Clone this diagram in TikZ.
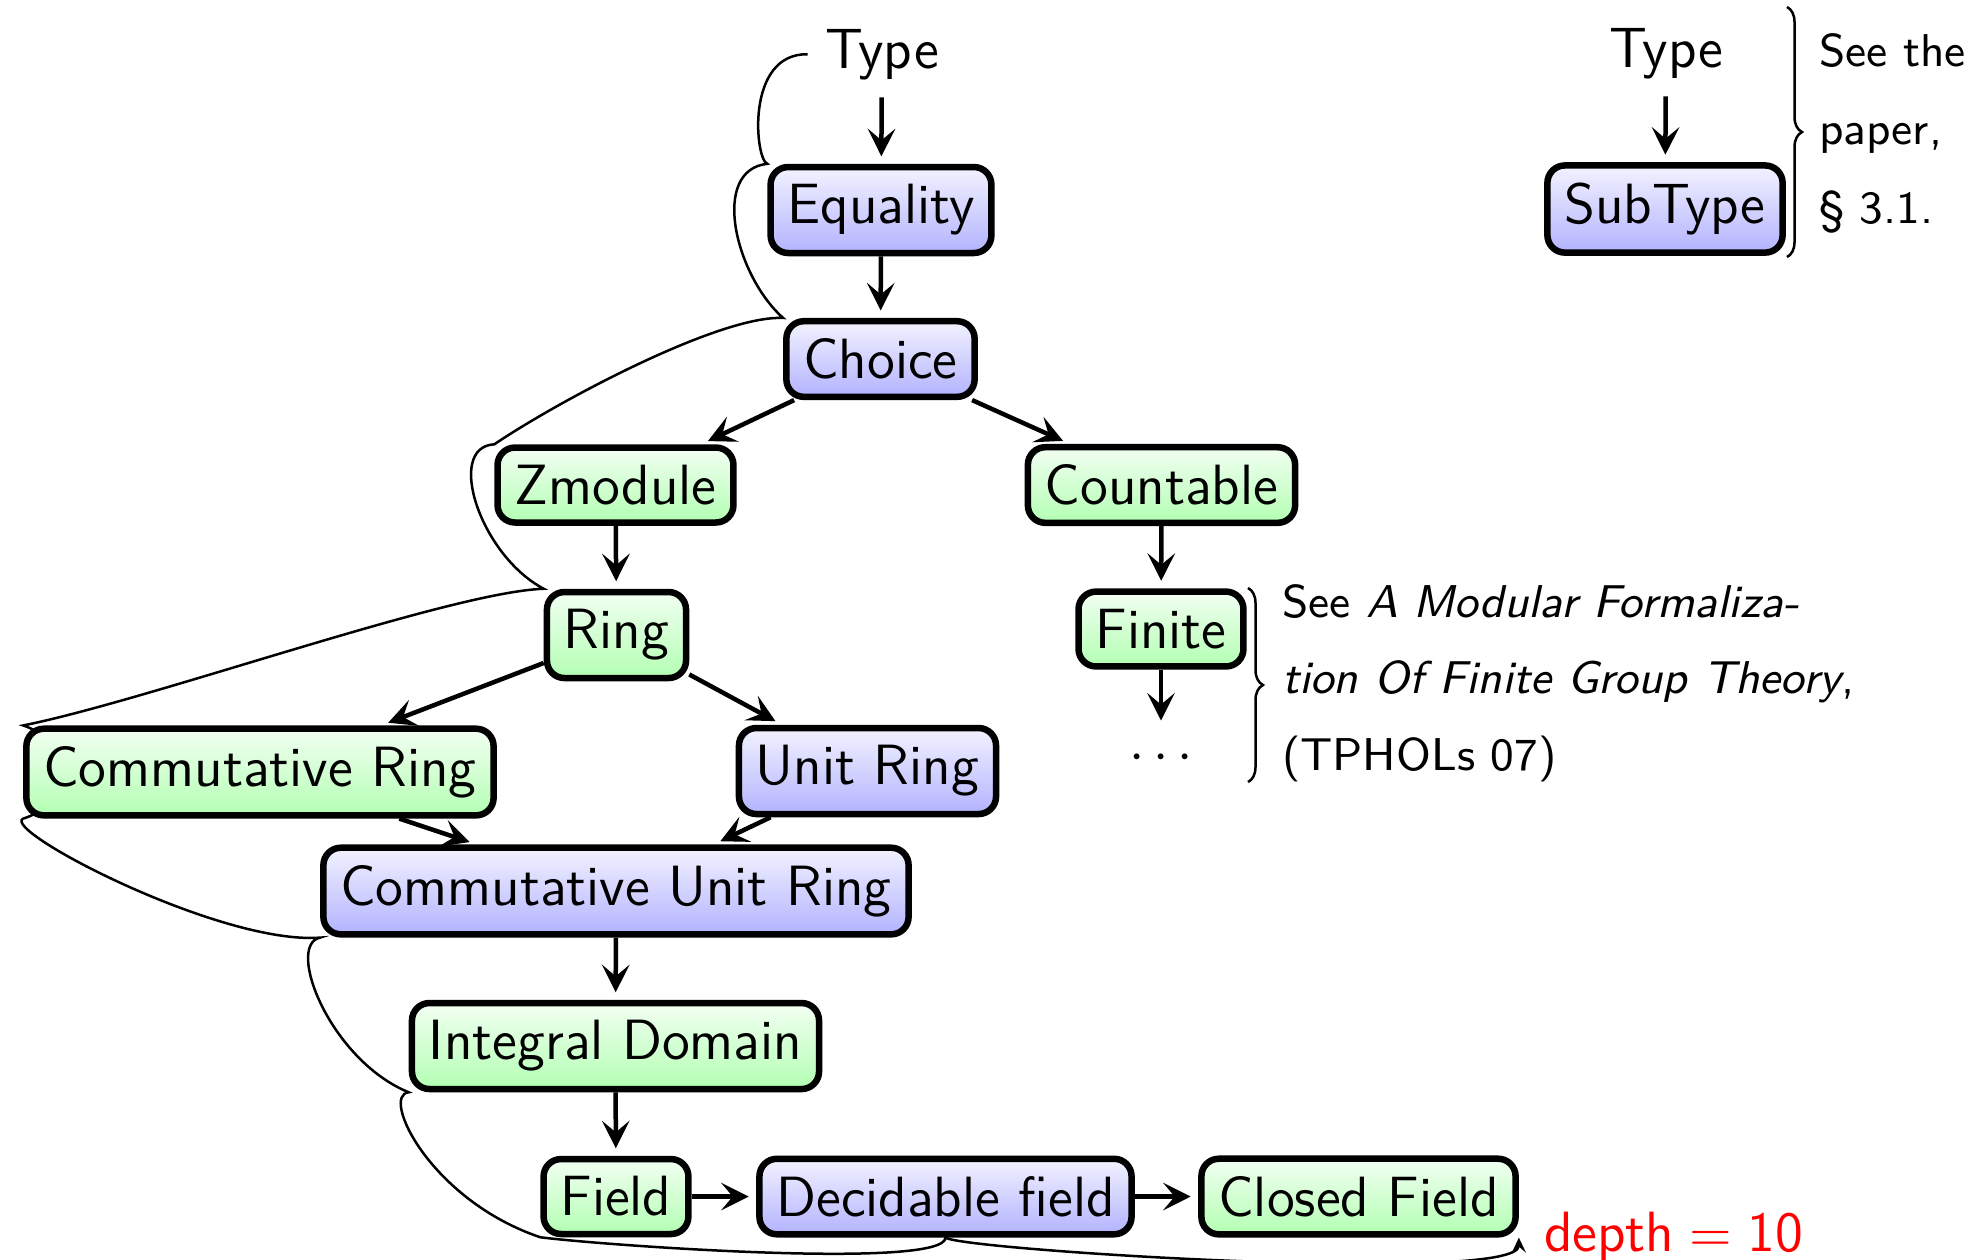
\documentclass[tikz,border=0pt]{standalone}
\usetikzlibrary{arrows.meta,decorations.pathreplacing,backgrounds}
\begin{document}
\begin{tikzpicture}[x=0.2pt,y=-0.2pt,
  lbl/.style={font=\sffamily\fontsize{11.35}{13.5}\selectfont},
  box/.style={lbl, draw, line width=1.3pt, rounded corners=3.5pt, inner xsep=3.4pt, inner ysep=3.5pt},
  bluebox/.style={box, top color=blue!5, bottom color=blue!30},
  greenbox/.style={box, top color=green!5, bottom color=green!30},
  edge/.style={line width=0.9pt, -{Stealth[length=5.5pt,width=5.5pt,inset=2.3pt]}, shorten >=1.5pt},
  note/.style={font=\sffamily\fontsize{9.2}{11}\selectfont, anchor=base west, inner sep=0pt},
  depthline/.style={line width=0.5pt, -{Stealth[length=3pt,width=2.8pt,inset=1.2pt]}},
  bracestyle/.style={line width=0.5pt, decorate, decoration={brace, amplitude=3pt}},
]
\useasboundingbox (0,0) rectangle (1986,1259);

% hierarchy of structures
\node[lbl, anchor=base] (type) at (882,68) {Type};
\node[bluebox] (eq) at (881,210) {Equality};
\node[bluebox] (choice) at (880.5,359) {Choice};
\node[greenbox] (zmod) at (615.5,485) {Zmodule};
\node[greenbox] (count) at (1161.5,485) {Countable};
\node[greenbox] (ring) at (616.5,635) {Ring};
\node[greenbox] (finite) at (1161,629) {Finite};
\node[lbl, anchor=base] (dots) at (1161,770) {$\cdots$};
\node[greenbox] (cring) at (260,772) {Commutative Ring};
\node[bluebox] (uring) at (867.5,771) {Unit Ring};
\node[bluebox] (cur) at (616,891) {Commutative Unit Ring};
\node[greenbox] (idom) at (615.5,1046) {Integral Domain};
\node[greenbox] (field) at (616,1196.5) {Field};
\node[bluebox] (dec) at (945.5,1196.5) {Decidable field};
\node[greenbox] (closed) at (1358.5,1196.5) {Closed Field};

% legend
\node[lbl, anchor=base] (type2) at (1666,67) {Type};
\node[bluebox] (sub) at (1665,209) {SubType};

% inheritance arrows
\draw[edge] (type) -- (eq);
\draw[edge] (eq) -- (choice);
\draw[edge] (choice) -- (zmod);
\draw[edge] (choice) -- (count);
\draw[edge] (zmod) -- (ring);
\draw[edge] (count) -- (finite);
\draw[edge] (finite) -- (dots);
\draw[edge] (ring) -- (cring);
\draw[edge] (ring) -- (uring);
\draw[edge] (cring) -- (cur);
\draw[edge] (uring) -- (cur);
\draw[edge] (cur) -- (idom);
\draw[edge] (idom) -- (field);
\draw[edge] (field) -- (dec);
\draw[edge] (dec) -- (closed);
\draw[edge] (type2) -- (sub);

% path of maximal depth, behind the boxes
\begin{scope}[on background layer]
\draw[depthline] (type.west)
  .. controls (745,53) and (755,160) .. (eq.north west)
  .. controls (710,170) and (735,275) .. (choice.north west)
  .. controls (720,315) and (560,400) .. (zmod.north west)
  .. controls (445,447) and (480,555) .. (ring.north west)
  .. controls (450,592) and (150,700) .. (cring.north west)
  .. controls (70,740) and (70,805) .. (cring.south west)
  .. controls (0,830) and (220,945) .. (cur.south west)
  .. controls (285,945) and (330,1060) .. (idom.south west)
  .. controls (380,1095) and (430,1200) .. (field.south west)
  .. controls (600,1245) and (945,1270) .. (dec.south)
  .. controls (960,1250) and (1519,1285) .. (closed.south east);
\end{scope}
\node[lbl, right, text=red, xshift=1.5pt] (depth) at (closed.south east) {depth${}={}$10};

% side remarks
\coordinate (b1top) at (1787,7);
\coordinate (b1bot) at (1787,257);
\draw[bracestyle] (b1top) -- (b1bot);
\node[note] (n1a) at (1818,66) {See the};
\node[note] (n1b) at (1818,144) {paper,};
\node[note] (n1c) at (1818,223) {§ 3.1.};

\coordinate (b2top) at (1248,588);
\coordinate (b2bot) at (1248,782);
\draw[bracestyle] (b2top) -- (b2bot);
\node[note] (n2a) at (1281,617) {See \textsl{A Modular Formaliza-}};
\node[note] (n2b) at (1281,693) {\textsl{tion Of Finite Group Theory},};
\node[note] (n2c) at (1281,770) {(TPHOLs 07)};
\end{tikzpicture}
\end{document}
